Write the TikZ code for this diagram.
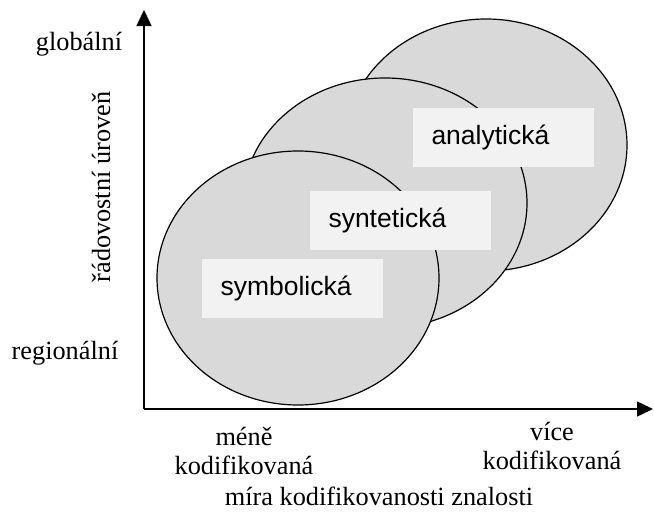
\documentclass[tikz,border=0pt]{standalone}
\usepackage{fontspec}
\setmainfont{Liberation Serif}
\newfontfamily\tagfont{Liberation Sans}
\usetikzlibrary{arrows.meta}

\tikzset{
    blob/.style={draw=black, line width=1.2pt, fill=black!15},
    tag/.style={fill=black!5, font=\tagfont\fontsize{26.5}{30}\selectfont,
        minimum width=181pt, minimum height=59pt, text width=143pt,
        inner xsep=19pt, align=left},
    axis/.style={line width=1.5pt, -{Triangle[length=16pt,width=15pt]}},
    note/.style={font=\fontsize{26.3}{29}\selectfont, align=center, inner sep=0pt}
}

\begin{document}
\begin{tikzpicture}[x=1pt, y=-1pt]
    \useasboundingbox (0,0) rectangle (654,514);
    % axes
    \coordinate (origin) at (144,409);
    \coordinate (yTip) at (144,10);
    \coordinate (xTip) at (653,409);
    \draw[axis] (origin) -- (yTip);
    \draw[axis] (origin) -- (xTip);
    % the three kinds of knowledge, back to front
    \draw[blob] (486,145) ellipse [x radius=141pt, y radius=126pt];
    \draw[blob] (385,203) ellipse [x radius=142pt, y radius=125pt];
    \draw[blob] (298,278) ellipse [x radius=141pt, y radius=127pt];
    \node[tag] (analytickaLabel) at (503,137) {analytická};
    \node[tag] (syntetickaLabel) at (400,220) {syntetická};
    \node[tag] (symbolickaLabel) at (292,288) {symbolická};
    % axis labels
    \node[note] (globalLabel) at (79,44) {globální};
    \node[note] (regionalLabel) at (65,353) {regionální};
    \node[note, rotate=90] (levelLabel) at (101,187) {řádovostní úroveň};
    \node[note] (lessLabel) at (244,451) {méně\\kodifikovaná};
    \node[note] (moreLabel) at (552,446) {více\\kodifikovaná};
    \node[note] (codifLabel) at (379,496) {míra kodifikovanosti znalosti};
\end{tikzpicture}
\end{document}
